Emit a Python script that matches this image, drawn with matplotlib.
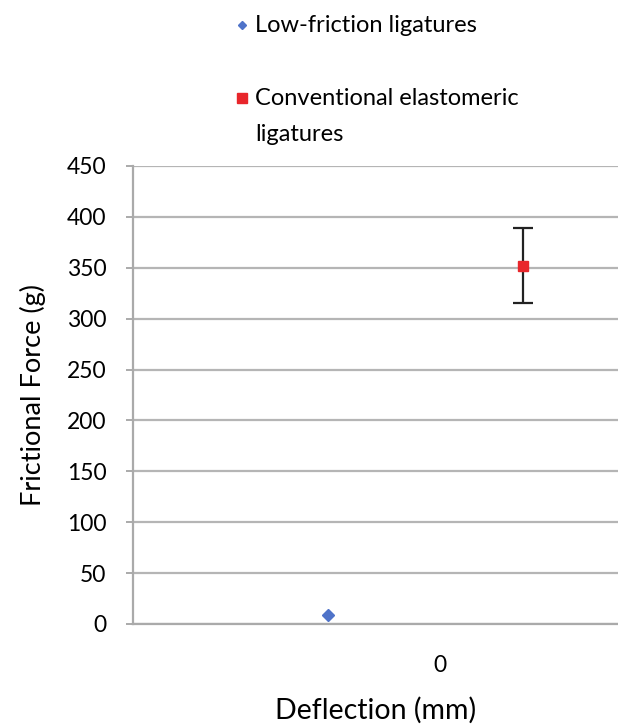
import matplotlib.pyplot as plt
from matplotlib.lines import Line2D

plt.rcParams['font.family'] = ['Lato', 'DejaVu Sans']

# data
series = ['Low-friction ligatures', 'Conventional\u00a0elastomeric\nligatures']
x_pos = [-0.574, 0.426]          # both sit around the single category "0"
force = [9, 352]
err = [0, 37]
colors = ['#4F73C9', '#E8262B']
markers = ['D', 's']
yticks = [0, 50, 100, 150, 200, 250, 300, 350, 400, 450]
xticks = [0]
xticklabels = ['0']

fig = plt.figure(figsize=(6.18, 7.26), dpi=100)
ax = fig.add_axes([133 / 618, 102 / 726, 485 / 618, 458 / 726])

for i in range(2):
    if err[i] > 0:
        ax.errorbar(x_pos[i], force[i], yerr=err[i], fmt='none', ecolor='#222222',
                    elinewidth=1.6, capsize=7, capthick=1.6, zorder=3)
    ax.plot(x_pos[i], force[i], marker=markers[i], color=colors[i],
            markersize=7 if i else 6, linestyle='none', zorder=4)

ax.set_ylim(0, 450)
ax.set_xlim(-1.574, 0.913)
ax.set_yticks(yticks)
ax.set_xticks(xticks)
ax.set_xticklabels(xticklabels)
ax.yaxis.grid(True, color='#b5b5b5', linewidth=1.6)
ax.set_axisbelow(True)
for s in ['top', 'right']:
    ax.spines[s].set_visible(False)
for s in ['left', 'bottom']:
    ax.spines[s].set_color('#aaaaaa')
    ax.spines[s].set_linewidth(1.6)
ax.tick_params(axis='y', length=5, color='#aaaaaa', width=1.4, pad=14, labelsize=16.5)
ax.tick_params(axis='x', length=0, pad=22, labelsize=16.5)
ax.set_ylabel('Frictional Force (g)', fontsize=19.5, labelpad=15)
ax.set_xlabel('Deflection (mm)', fontsize=20.5, labelpad=15)

# legend drawn by hand, Excel style
leg_y = [1 - 25 / 726, 1 - 98 / 726]
for i in range(2):
    fig.add_artist(Line2D([242 / 618], [leg_y[i]], marker=markers[i],
                          color=colors[i], markersize=4.5 if i == 0 else 6.5,
                          linestyle='none', transform=fig.transFigure))
    fig.text(255 / 618, leg_y[i] + 10 / 726, series[i], fontsize=17, va='top',
             ha='left', linespacing=1.87)

fig.savefig('out.png', dpi=100)
